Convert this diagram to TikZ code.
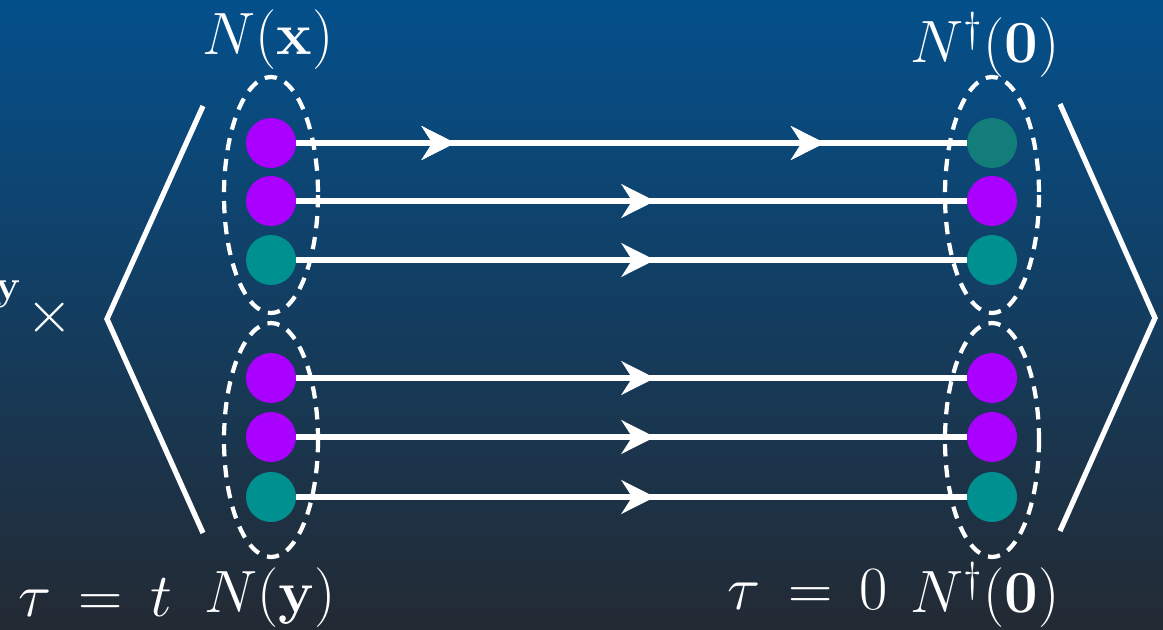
\documentclass[tikz,border=0pt]{standalone}
\usepackage{fix-cm}
\usepackage{amsmath}
\usetikzlibrary{calc, positioning}
\usetikzlibrary{arrows.meta}
\usetikzlibrary{decorations.markings}

\definecolor{bgtop}{HTML}{04508C}
\definecolor{bgbot}{HTML}{232A33}
\definecolor{quarkp}{HTML}{AA00FF}
\definecolor{quarkt}{HTML}{009090}
\definecolor{quarkd}{HTML}{137E79}

\tikzset{
  quark/.style={circle, minimum size=1cm, inner sep=0pt},
  prop/.style={white, line width=3.3pt},
  midarrow/.style={postaction={decorate}, decoration={markings,
    mark=at position #1 with {\arrow{Stealth[length=19pt,width=19pt,inset=6pt]}}}},
  cluster/.style={white, line width=2.4pt, dash pattern=on 7pt off 5pt},
  bracket/.style={white, line width=3pt, line join=miter},
  lab/.style={text=white, inner sep=0pt, font=\fontsize{34}{40}\selectfont},
  timelab/.style={lab, font=\fontsize{35}{42}\selectfont}
}

\begin{document}
\begin{tikzpicture}[x=0.02cm, y=-0.02cm]
\useasboundingbox (0,0) rectangle (1163,629);
\shade[top color=bgtop, bottom color=bgbot] (0,0) rectangle (1163,629);

% quarks at both ends
\foreach \r/\y/\cl/\cr in {1/143/quarkp/quarkd, 2/201/quarkp/quarkp, 3/260/quarkt/quarkt,
                           4/378/quarkp/quarkp, 5/437/quarkp/quarkp, 6/497/quarkt/quarkt}
{
  \node[quark, fill=\cl] (x\r) at (271,\y) {};
  \node[quark, fill=\cr] (z\r) at (992,\y) {};
}

% propagators
\draw[prop, midarrow=0.237, midarrow=0.788] (x1) -- (z1);
\foreach \r in {2,...,6}
  \draw[prop, midarrow=0.535] (x\r) -- (z\r);

% dashed clusters
\draw[cluster] (271,195) ellipse [x radius=47, y radius=118];
\draw[cluster] (271,440) ellipse [x radius=47, y radius=117];
\draw[cluster] (992,195) ellipse [x radius=47, y radius=118];
\draw[cluster] (992,440) ellipse [x radius=47, y radius=117];

% angle brackets
\draw[bracket] (203,106) -- (107,319) -- (203,533);
\draw[bracket] (1060,104) -- (1155,318) -- (1060,531);

% labels
\node[lab] (nx) at (268,40) {$N(\mathbf{x})$};
\node[lab] (nzt) at (985,45) {$N^\dagger(\mathbf{0})$};
\node[timelab] (tt) at (95,598) {$\tau \,=\, t$};
\node[lab] (ny) at (270,598) {$N(\mathbf{y})$};
\node[timelab] (tz) at (808,590) {$\tau \,=\, 0$};
\node[lab] (nzb) at (985,595) {$N^\dagger(\mathbf{0})$};
\node[lab, font=\fontsize{24}{28}\selectfont] (ysup) at (8,294) {$\mathbf{y}$};
\node[lab] (times) at (50,318) {$\times$};
\end{tikzpicture}
\end{document}
